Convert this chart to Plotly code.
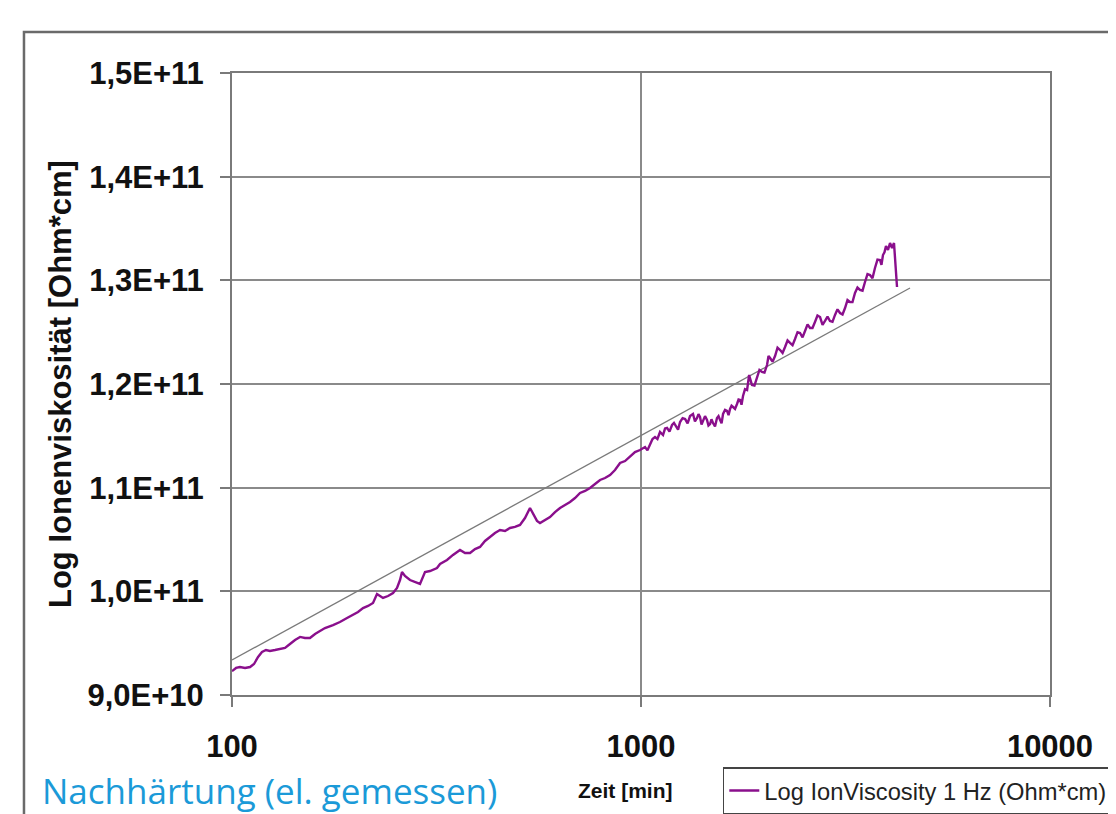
import plotly.graph_objects as go

# ---------------- data ----------------
time_min = [100, 102.3, 104.6, 107.6, 110.7, 113.2, 115.8, 118.4, 121.1, 123.8,
            127.4, 131.0, 134.8, 138.6, 142.6, 146.7, 150.8, 155.1, 159.6, 164.1,
            168.8, 176.6, 183.6, 191.1, 197.6, 203.3, 209.1, 215.1, 221.2, 226.2,
            230.1, 234.0, 240.7, 247.6, 253.2, 257.5, 260.4, 264.8, 272.4, 280.2,
            288.2, 296.4, 304.9, 317.1, 322.6, 335.5, 347.0, 361.0, 371.3, 381.9,
            392.8, 404.0, 415.5, 427.4, 439.5, 452.1, 465.0, 478.3, 491.9, 506.0,
            520.4, 535.3, 544.4, 556.8, 566.3, 582.5, 599.1, 616.2, 633.9, 652.0,
            670.6, 689.7, 709.5, 729.8, 750.6, 772.0, 794.1, 816.6, 840.0, 863.9,
            888.7, 914.0, 940.0, 966.7, 994.5, 1023, 1037, 1052, 1067, 1082,
            1097, 1113, 1132, 1145, 1158, 1174, 1191, 1204, 1218, 1232,
            1246, 1264, 1282, 1300, 1318, 1340, 1355, 1371, 1382, 1394,
            1406, 1418, 1434, 1450, 1462, 1475, 1487, 1500, 1517, 1534,
            1547, 1561, 1574, 1587, 1605, 1623, 1637, 1651, 1665, 1679,
            1698, 1717, 1732, 1747, 1761, 1776, 1796, 1817, 1838, 1852,
            1868, 1894, 1921, 1948, 1976, 2004, 2033, 2050, 2068, 2097,
            2127, 2157, 2188, 2219, 2250, 2282, 2314, 2347, 2380, 2414,
            2448, 2483, 2518, 2554, 2590, 2626, 2663, 2701, 2740, 2779,
            2818, 2858, 2898, 2939, 2981, 3023, 3066, 3110, 3154, 3198,
            3243, 3289, 3336, 3383, 3431, 3480, 3529, 3579, 3630, 3681,
            3733, 3786, 3840, 3872, 3905, 3938, 3972, 4017, 4063, 4109,
            4155, 4178, 4202, 4226]

# Log ion viscosity in units of 1E+10 Ohm*cm
ionvisc_e10 = [9.23, 9.261, 9.270, 9.261, 9.270, 9.299, 9.367, 9.415, 9.434, 9.425,
               9.434, 9.444, 9.454, 9.492, 9.531, 9.560, 9.550, 9.550, 9.589, 9.617,
               9.646, 9.675, 9.704, 9.743, 9.772, 9.801, 9.839, 9.859, 9.888, 9.974,
               9.955, 9.936, 9.955, 9.984, 10.032, 10.109, 10.187, 10.148, 10.109, 10.090,
               10.071, 10.187, 10.196, 10.225, 10.264, 10.302, 10.351, 10.399, 10.370, 10.370,
               10.408, 10.428, 10.486, 10.524, 10.563, 10.592, 10.582, 10.611, 10.621, 10.640,
               10.707, 10.804, 10.746, 10.679, 10.659, 10.688, 10.717, 10.765, 10.804, 10.833,
               10.862, 10.900, 10.949, 10.968, 10.997, 11.035, 11.074, 11.093, 11.122, 11.170,
               11.238, 11.257, 11.296, 11.344, 11.363, 11.392, 11.360, 11.421, 11.470, 11.489,
               11.470, 11.537, 11.508, 11.570, 11.576, 11.540, 11.605, 11.625, 11.585, 11.560,
               11.633, 11.670, 11.662, 11.620, 11.691, 11.711, 11.640, 11.672, 11.710, 11.682,
               11.610, 11.643, 11.690, 11.653, 11.600, 11.614, 11.660, 11.624, 11.590, 11.672,
               11.690, 11.653, 11.620, 11.711, 11.750, 11.740, 11.700, 11.759, 11.790, 11.778,
               11.760, 11.807, 11.850, 11.846, 11.800, 11.884, 11.950, 11.942, 12.087, 12.040,
               11.990, 11.985, 12.058, 12.135, 12.116, 12.110, 12.183, 12.270, 12.251, 12.215,
               12.270, 12.350, 12.328, 12.300, 12.357, 12.420, 12.396, 12.375, 12.434, 12.500,
               12.492, 12.450, 12.511, 12.575, 12.540, 12.540, 12.598, 12.660, 12.646, 12.570,
               12.608, 12.650, 12.608, 12.600, 12.666, 12.720, 12.685, 12.670, 12.733, 12.810,
               12.791, 12.790, 12.878, 12.930, 12.907, 12.900, 12.984, 13.060, 13.051, 13.020,
               13.119, 13.200, 13.196, 13.150, 13.244, 13.270, 13.331, 13.293, 13.360, 13.312,
               13.360, 13.244, 13.100, 12.936]
ionvisc = [v * 1e10 for v in ionvisc_e10]

trend_x = [100, 4547]
trend_y = [9.338e10, 1.2926e11]

y_tickvals = [9.0e10, 1.0e11, 1.1e11, 1.2e11, 1.3e11, 1.4e11, 1.5e11]
y_ticktext = ["9,0E+10", "1,0E+11", "1,1E+11", "1,2E+11", "1,3E+11", "1,4E+11", "1,5E+11"]
x_tickvals = [100, 1000, 10000]
x_ticktext = ["100", "1000", "10000"]

series_name = "Log IonViscosity 1 Hz (Ohm*cm)"
x_title = "Zeit [min]"
y_title = "Log Ionenviskosität [Ohm*cm]"
caption = "Nachhärtung (el. gemessen)"

# ---------------- figure ----------------
fig = go.Figure()
fig.add_trace(go.Scatter(x=trend_x, y=trend_y, mode="lines",
                         line=dict(color="#7a7a7a", width=1.3),
                         showlegend=False, hoverinfo="skip"))
fig.add_trace(go.Scatter(x=time_min, y=ionvisc, mode="lines", name=series_name,
                         line=dict(color="#8a0f8c", width=2.4)))

FAM = "Liberation Sans, Arial, sans-serif"
bold_font = dict(family=FAM, size=31, color="#111111", weight="bold")

fig.update_layout(
    width=1108, height=806,
    paper_bgcolor="white", plot_bgcolor="white",
    margin=dict(l=224, r=66, t=65, b=119, autoexpand=False),
    font=dict(family=FAM),
    xaxis=dict(type="log", range=[2, 4], tickvals=x_tickvals, ticktext=x_ticktext,
               showgrid=True, gridcolor="#8a8a8a", gridwidth=2,
               showline=True, linecolor="#7a7a7a", linewidth=2, mirror=True,
               ticks="outside", ticklen=10, tickwidth=2, tickcolor="#7a7a7a",
               tickfont=bold_font, ticklabelstandoff=13, zeroline=False),
    yaxis=dict(range=[9.0e10, 1.5e11], tickvals=y_tickvals, ticktext=y_ticktext,
               showgrid=True, gridcolor="#8a8a8a", gridwidth=2,
               showline=True, linecolor="#7a7a7a", linewidth=2, mirror=True,
               ticks="outside", ticklen=10, tickwidth=2, tickcolor="#7a7a7a",
               tickfont=bold_font, ticklabelstandoff=10, zeroline=False),
    legend=dict(x=0.600, xanchor="left", y=-0.116, yanchor="top",
                bgcolor="white", bordercolor="#444444", borderwidth=1.5,
                font=dict(family=FAM, size=23.7, color="#222222"),
                itemwidth=30, tracegroupgap=0),
    showlegend=True,
)

# outer chart frame
fig.add_shape(type="rect", xref="paper", yref="paper",
              x0=-0.2543, x1=1.3, y0=-0.5, y1=1.0659,
              line=dict(color="#6a6a6a", width=2.5), fillcolor="rgba(0,0,0,0)")

# axis titles & caption (positions relative to plot area of 818 x 622 px)
fig.add_annotation(text=y_title, xref="paper", yref="paper",
                   x=(52 - 224) / 818, y=0.5, xanchor="center", yanchor="middle",
                   textangle=-90, showarrow=False,
                   font=dict(family=FAM, size=31, color="#111111", weight="bold"))
fig.add_annotation(text=x_title, xref="paper", yref="paper",
                   x=(617 - 224) / 818, y=(687 - 782) / 622, xanchor="center", yanchor="middle",
                   showarrow=False,
                   font=dict(family=FAM, size=21, color="#111111", weight="bold"))
fig.add_annotation(text=caption, xref="paper", yref="paper",
                   x=(32 - 224) / 818, xanchor="left", y=(687 - 782) / 622, yanchor="middle",
                   showarrow=False,
                   font=dict(family="Open Sans, sans-serif", size=35, color="#1b9ad8"))

fig.write_html("out.html")
